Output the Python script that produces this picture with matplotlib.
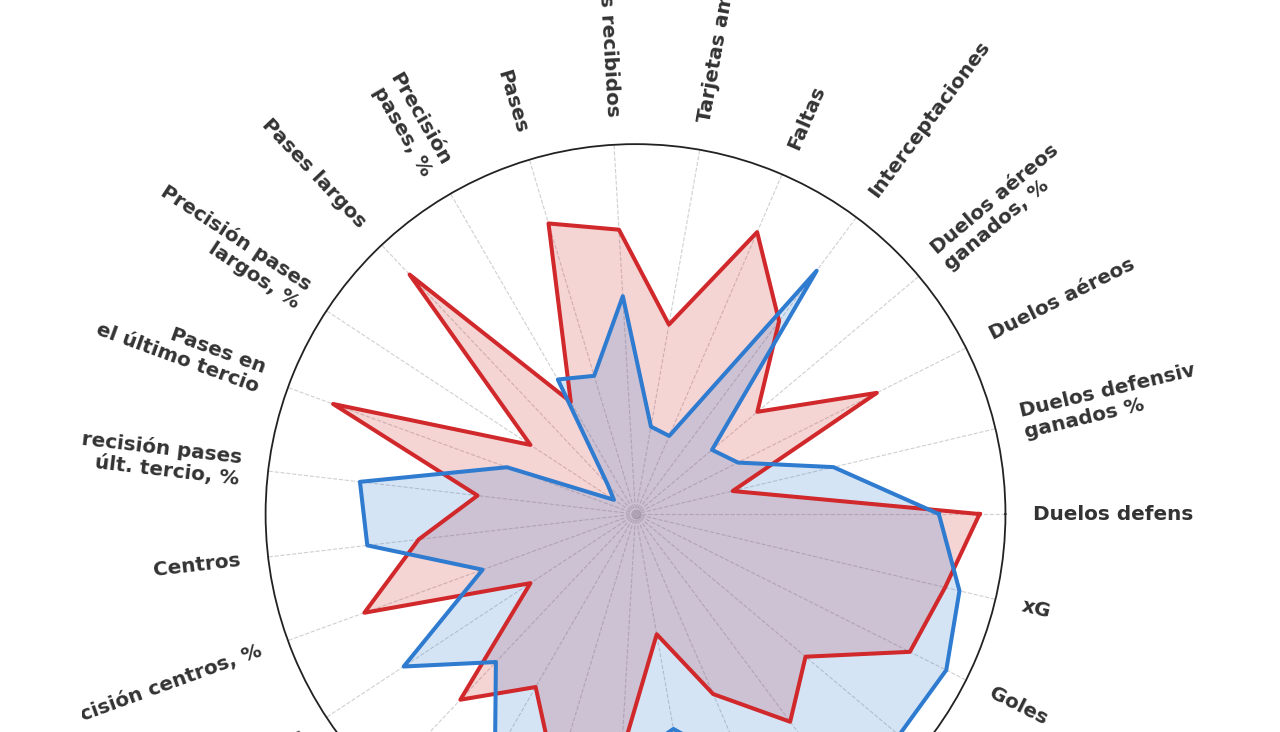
import numpy as np
import matplotlib
matplotlib.use("Agg")
import matplotlib.pyplot as plt
from matplotlib.transforms import Bbox, TransformedBbox

# categorias (sentido antihorario desde la derecha)
labels = ["Duelos defensivos", "Duelos defensivos\nganados %", "Duelos aéreos",
          "Duelos aéreos\nganados, %", "Interceptaciones", "Faltas",
          "Tarjetas amarillas", "Pases recibidos", "Pases", "Precisión\npases, %",
          "Pases largos", "Precisión pases\nlargos, %", "Pases en\nel último tercio",
          "Precisión pases\núlt. tercio, %", "Centros", "Precisión centros, %",
          "Regates", "Regates\nexitosos, %", "Carreras en\nprogresión", "Aceleraciones",
          "Toques en\nel área", "Remates", "Remates a\nportería, %", "Asistencias",
          "xA", "Goles", "xG"]

jugador_a = [93, 27, 73, 43, 65, 83, 52, 77, 82, 35, 89, 34, 87, 43, 59, 78,
             34, 69, 54, 75, 65, 33, 53, 70, 60, 83, 86]
jugador_b = [82, 55, 31, 27, 82, 23, 24, 59, 39, 42, 11, 7, 37, 75, 73, 44,
             75, 55, 76, 70, 68, 59, 75, 85, 93, 94, 90]

rojo = "#d0282b"
azul = "#2e7bd0"

n = len(labels)
angles = np.linspace(0, 2 * np.pi, n, endpoint=False)
ang_c = np.concatenate([angles, angles[:1]])

fig = plt.figure(figsize=(12.8, 7.32), dpi=100)
ax = fig.add_axes([0.2075, -0.2077, 0.578, 1.0109], projection="polar")

ax.set_ylim(0, 100)
ax.set_xticks(angles)
ax.set_xticklabels([])
ax.set_yticks([])
ax.xaxis.grid(True, linestyle="--", color="#d0d0d0", linewidth=0.8)
ax.yaxis.grid(False)
ax.spines["polar"].set_color("#222222")
ax.spines["polar"].set_linewidth(1.3)

for vals, col in [(jugador_a, rojo), (jugador_b, azul)]:
    v = np.concatenate([vals, vals[:1]])
    ax.fill(ang_c, v, color=col, alpha=0.2, zorder=2)
    ax.plot(ang_c, v, color=col, linewidth=2.9, zorder=3)

ax.plot(0, 0, "o", color="#bdbdbd", markersize=6, zorder=1)

# la imagen original recorta los textos a los lados
clip = TransformedBbox(Bbox.from_extents(82 / 1280, 0, 1195 / 1280, 1), fig.transFigure)

for a, lab in zip(angles, labels):
    deg = np.degrees(a)
    if 90 < deg <= 270:
        rot, ha = deg - 180, "right"
    else:
        rot, ha = (deg if deg <= 90 else deg - 360), "left"
    t = ax.text(a, 107.5, lab, rotation=rot, rotation_mode="anchor", ha=ha,
                va="center", fontsize=14.4, fontweight="bold", color="#333333",
                linespacing=1.15)
    t.set_clip_box(clip)
    t.set_clip_on(True)

fig.savefig("out.png", dpi=100)
